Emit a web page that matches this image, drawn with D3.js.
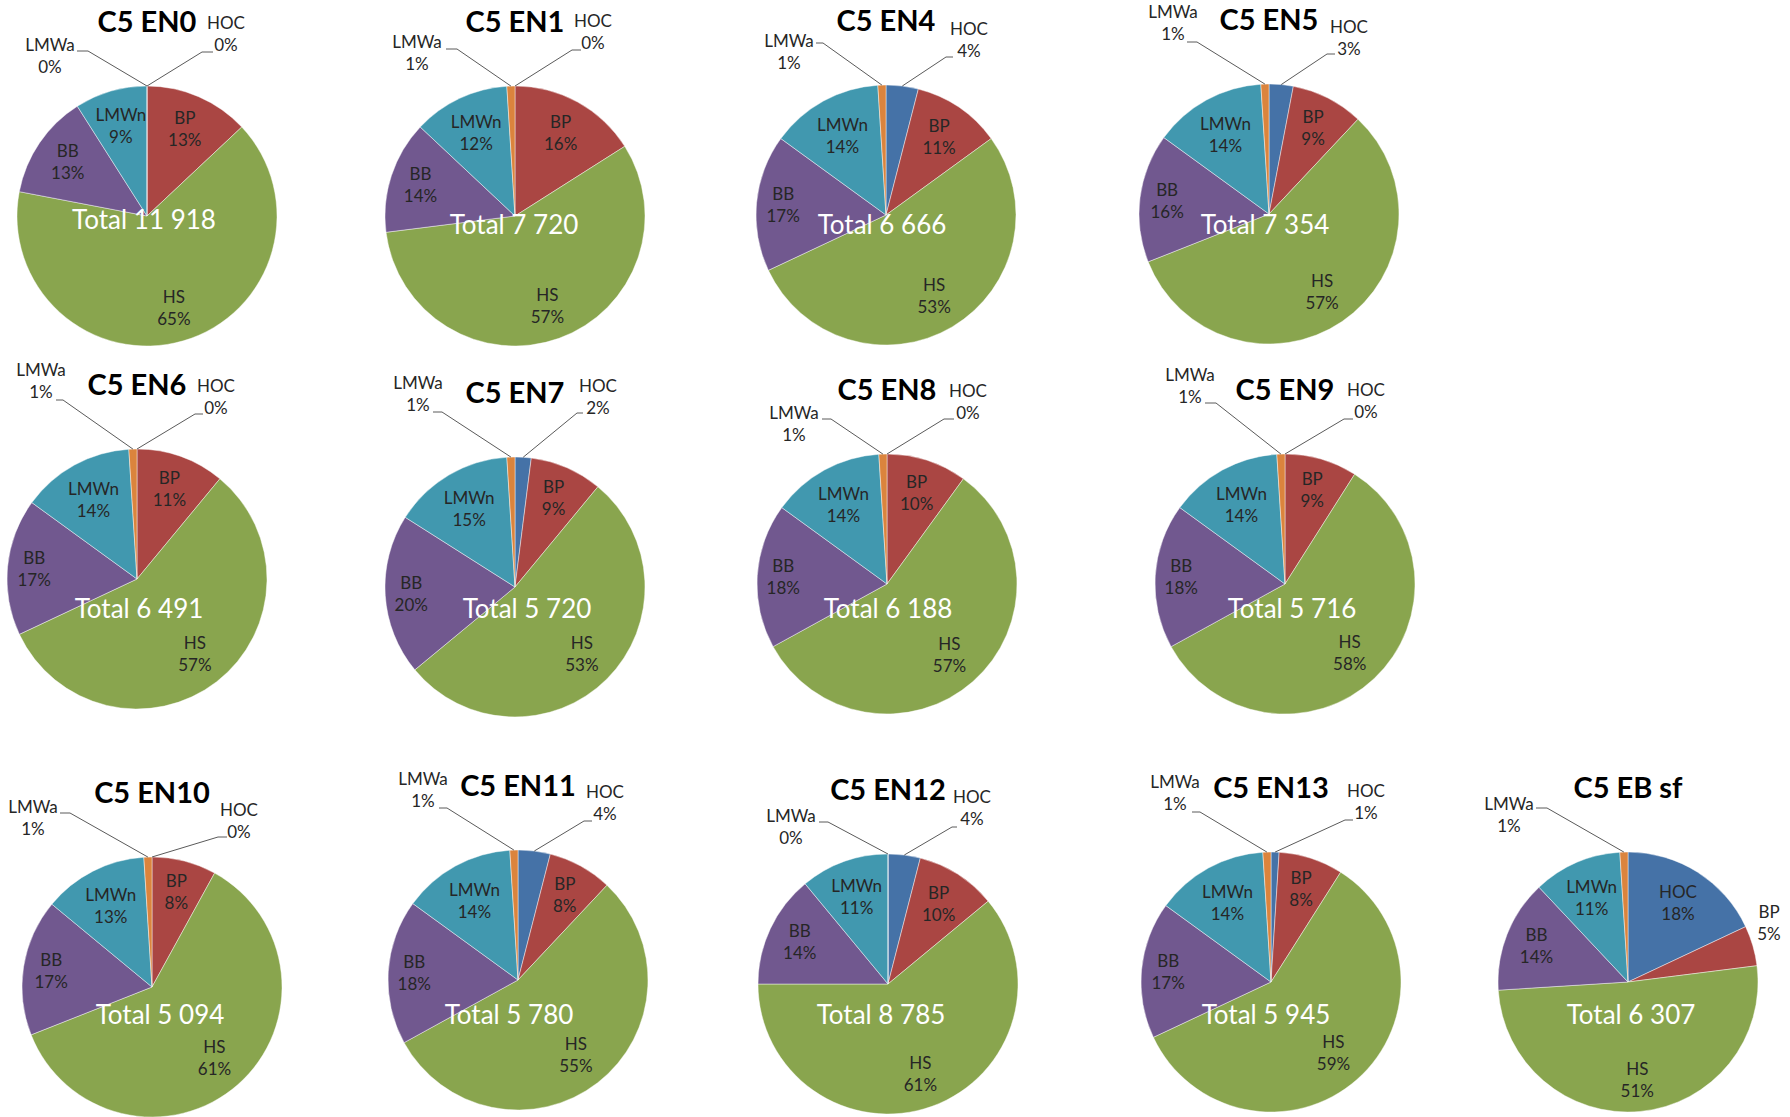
<!DOCTYPE html>
<html>
<head>
<meta charset="utf-8">
<script src="https://cdn.jsdelivr.net/npm/d3@7"></script>
<style>
  html, body { margin: 0; padding: 0; background: #fff; }
  svg { display: block; font-family: Lato, "Open Sans", sans-serif; }
</style>
</head>
<body>
<svg id="chart" width="1790" height="1117"></svg>
<script>
// Fractions of the organic carbon pool, in percent, per sample
const categories = ["HOC", "BP", "HS", "BB", "LMWn", "LMWa"];
const samples = ["C5 EN0", "C5 EN1", "C5 EN4", "C5 EN5", "C5 EN6", "C5 EN7", "C5 EN8",
                 "C5 EN9", "C5 EN10", "C5 EN11", "C5 EN12", "C5 EN13", "C5 EB sf"];
const HOC  = [0, 0, 4, 3, 0, 2, 0, 0, 0, 4, 4, 1, 18];
const BP   = [13, 16, 11, 9, 11, 9, 10, 9, 8, 8, 10, 8, 5];
const HS   = [65, 57, 53, 57, 57, 53, 57, 58, 61, 55, 61, 59, 51];
const BB   = [13, 14, 17, 16, 17, 20, 18, 18, 17, 18, 14, 17, 14];
const LMWn = [9, 12, 14, 14, 14, 15, 14, 14, 13, 14, 11, 14, 11];
const LMWa = [0, 1, 1, 1, 1, 1, 1, 1, 1, 1, 0, 1, 1];
const totals = [11918, 7720, 6666, 7354, 6491, 5720, 6188, 5716, 5094, 5780, 8785, 5945, 6307];

const series = [HOC, BP, HS, BB, LMWn, LMWa];

// ---- layout -------------------------------------------------------------
const R = 130;
const centers = [
  [147, 216], [515, 216], [886, 215], [1269, 214],
  [137, 579], [515, 587], [887, 584], [1285, 584],
  [152, 987], [518, 980], [888, 984], [1271, 982], [1628, 982]
];
const totalPos = [
  [144, 219], [514, 224], [882, 224], [1265, 224],
  [139, 608], [527, 608], [888, 608], [1292, 608],
  [160, 1014], [509, 1014], [881, 1014], [1266, 1014], [1631, 1014]
];
// Labels set outside the pie: [text x, first baseline, leader x, leader y, elbow x]
const outside = [
  { LMWa: [50, 51, 77, 51, 88],       HOC: [226, 29, 213, 52, 202] },
  { LMWa: [417, 48, 446, 49, 457],    HOC: [593, 27, 581, 50, 572] },
  { LMWa: [789, 47, 816, 43, 823],    HOC: [969, 35, 953, 57, 946] },
  { LMWa: [1173, 18, 1187, 42, 1197], HOC: [1349, 33, 1335, 54, 1327] },
  { LMWa: [41, 376, 56, 400, 63],     HOC: [216, 392, 203, 414, 195] },
  { LMWa: [418, 389, 433, 412, 442],  HOC: [598, 392, 583, 413, 577] },
  { LMWa: [794, 419, 822, 419, 831],  HOC: [968, 397, 954, 419, 944] },
  { LMWa: [1190, 381, 1205, 403, 1216], HOC: [1366, 396, 1353, 419, 1344] },
  { LMWa: [33, 813, 60, 813, 70],     HOC: [239, 816, 227, 837, 218] },
  { LMWa: [423, 785, 439, 808, 447],  HOC: [605, 798, 592, 821, 584] },
  { LMWa: [791, 822, 819, 822, 828],  HOC: [972, 803, 957, 827, 952] },
  { LMWa: [1175, 788, 1192, 812, 1200], HOC: [1366, 797, 1353, 820, 1345] },
  { LMWa: [1509, 810, 1536, 808, 1547], BP: [1769, 918] }
];

const color = d3.scaleOrdinal()
  .domain(categories)
  .range(["#4572A7", "#AA4643", "#89A54E", "#71588F", "#4198AF", "#DB843D"]);

const fmtTotal = d3.formatLocale({ decimal: ",", thousands: " ", grouping: [3], currency: ["", ""] }).format(",d");

const svg = d3.select("#chart");
svg.append("rect").attr("width", 1790).attr("height", 1117).attr("fill", "#fff");

const pie = d3.pie().sort(null).value(d => d.value);
const arc = d3.arc().innerRadius(0).outerRadius(R);
const edgeArc = d3.arc().innerRadius(R).outerRadius(R);

const LABEL_FS = 17, LINE = 22, TEXT = "#262626";

samples.forEach((name, i) => {
  const [cx, cy] = centers[i];
  const rows = categories.map((c, k) => ({ cat: c, value: series[k][i] }));
  const arcs = pie(rows);
  const outs = outside[i];

  const g = svg.append("g").attr("transform", `translate(${cx},${cy})`);

  g.selectAll("path.slice").data(arcs).join("path")
    .attr("class", "slice")
    .attr("d", arc)
    .attr("fill", d => color(d.data.cat))
    .attr("stroke", "rgba(255,255,255,0.55)")
    .attr("stroke-width", 0.8);

  // labels inside the slices: the two-line box is pushed out along the
  // bisector until it sits a small margin inside the rim
  arcs.filter(d => !outs[d.data.cat]).forEach(d => {
    const t = g.append("text").attr("text-anchor", "middle")
      .attr("font-size", LABEL_FS).attr("fill", TEXT);
    const s1 = t.append("tspan").text(d.data.cat);
    const s2 = t.append("tspan").text(d.data.value + "%");
    const hw = Math.max(s1.node().getComputedTextLength(), s2.node().getComputedTextLength()) / 2;
    const hh = LINE;
    const a = (d.startAngle + d.endAngle) / 2;
    const sa = Math.sin(a), ca = Math.cos(a);
    const dist = R - 8 - (hw * Math.abs(sa) + hh * Math.abs(ca));
    const x = dist * sa, y = -dist * ca;
    s1.attr("x", x).attr("y", y - 5);
    s2.attr("x", x).attr("y", y - 5 + LINE);
  });

  // labels outside the pie, with leader lines back to the slice edge
  arcs.filter(d => outs[d.data.cat]).forEach(d => {
    const p = outs[d.data.cat];
    if (p.length > 2) {
      const [ex, ey] = edgeArc.centroid(d);
      svg.append("polyline")
        .attr("points", [[p[2], p[3]], [p[4], p[3]], [cx + ex, cy + ey]].map(q => q.join(",")).join(" "))
        .attr("fill", "none").attr("stroke", "#5a5a5a").attr("stroke-width", 1);
    }
    const t = svg.append("text").attr("text-anchor", "middle")
      .attr("font-size", LABEL_FS).attr("fill", TEXT);
    t.append("tspan").attr("x", p[0]).attr("y", p[1]).text(d.data.cat);
    t.append("tspan").attr("x", p[0]).attr("y", p[1] + LINE).text(d.data.value + "%");
  });

  // title
  svg.append("text").attr("x", cx).attr("y", cy - 184)
    .attr("text-anchor", "middle").attr("font-size", 29).attr("font-weight", 700)
    .attr("fill", "#000").text(name);

  // total
  const [tx, ty] = totalPos[i];
  svg.append("text").attr("x", tx).attr("y", ty + 9.5)
    .attr("text-anchor", "middle").attr("font-size", 26).attr("fill", "#fff")
    .text("Total " + fmtTotal(totals[i]));
});
</script>
</body>
</html>
